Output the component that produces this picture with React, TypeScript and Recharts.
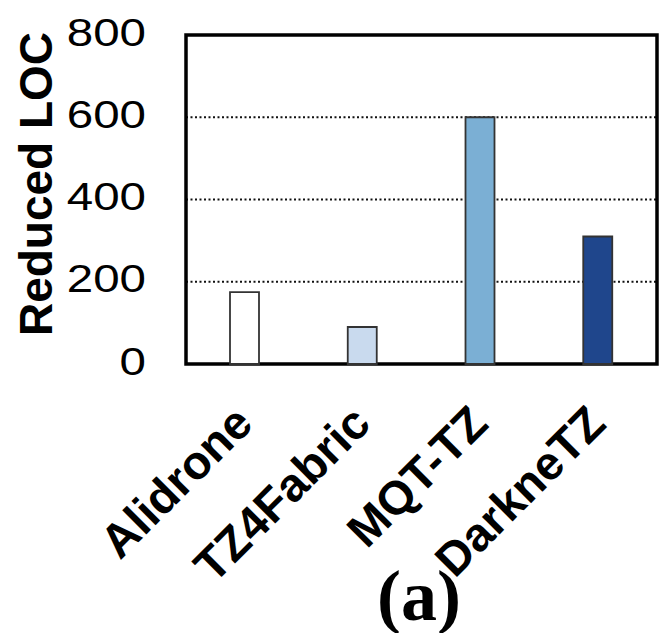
import React from "react";
import { BarChart, Bar, XAxis, YAxis, CartesianGrid, ReferenceArea, Cell } from "recharts";

const categories = ["Alidrone", "TZ4Fabric", "MQT-TZ", "DarkneTZ"];
const reducedLoc = [175, 90, 600, 310];
const barColors = ["#ffffff", "#c9daee", "#7bafd4", "#1f468c"];
const yTicks = [0, 200, 400, 600, 800];
const yLabel = "Reduced LOC";
const panelLabel = "(a)";

const data = categories.map((name, i) => ({ name, value: reducedLoc[i] }));

const YTick = (props: any) => {
  const { x, y, payload } = props;
  return (
    <text
      transform={`translate(${x},${y}) scale(1.25,1)`}
      textAnchor="end"
      dy="0.28em"
      fontSize={38}
      fontFamily="'Liberation Sans', Arial, sans-serif"
      fill="#000"
    >
      {payload.value}
    </text>
  );
};

const XTick = (props: any) => {
  const { x, y, payload } = props;
  const ax = x + 10;
  const ay = y + 62;
  return (
    <text
      x={ax}
      y={ay}
      transform={`rotate(-45, ${ax}, ${ay})`}
      textAnchor="end"
      fontSize={47}
      fontWeight="bold"
      fontFamily="'Liberation Sans', Arial, sans-serif"
      fill="#000"
    >
      {payload.value}
    </text>
  );
};

export default function App() {
  return (
    <div style={{ position: "absolute", left: 0, top: 0, width: 659, height: 633, background: "#fff" }}>
      <BarChart
        width={659}
        height={633}
        data={data}
        margin={{ top: 35, right: 2, bottom: 0, left: 0 }}
      >
        <CartesianGrid
          vertical={false}
          stroke="#111"
          strokeWidth={2}
          strokeDasharray="2 2.5"
        />
        <XAxis
          dataKey="name"
          axisLine={false}
          tickLine={false}
          tickSize={0}
          tickMargin={0}
          height={269}
          interval={0}
          tick={<XTick />}
          label={{
            content: () => (
              <text
                x={419}
                y={620}
                textAnchor="middle"
                fontSize={72}
                fontWeight="bold"
                fontFamily="'Liberation Serif', 'Times New Roman', serif"
                fill="#000"
              >
                {panelLabel}
              </text>
            ),
          }}
        />
        <YAxis
          domain={[0, 800]}
          ticks={yTicks}
          axisLine={false}
          tickLine={false}
          tickSize={0}
          tickMargin={40}
          width={186}
          interval={0}
          tick={<YTick />}
          label={{
            content: () => (
              <text
                x={52}
                y={184}
                transform="rotate(-90, 52, 184)"
                textAnchor="middle"
                fontSize={46}
                fontWeight="bold"
                fontFamily="'Liberation Sans', Arial, sans-serif"
                fill="#000"
              >
                {yLabel}
              </text>
            ),
          }}
        />
        <Bar dataKey="value" barSize={29} stroke="#333" strokeWidth={1.8} isAnimationActive={false}>
          {data.map((d, i) => (
            <Cell key={d.name} fill={barColors[i]} />
          ))}
        </Bar>
        <ReferenceArea y1={0} y2={800} fill="none" stroke="#000" strokeWidth={3.5} ifOverflow="visible" />
      </BarChart>
    </div>
  );
}
